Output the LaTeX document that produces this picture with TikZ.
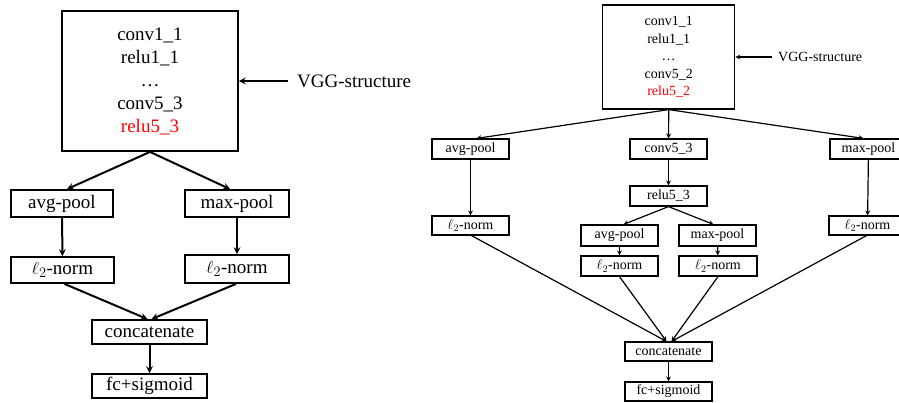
\documentclass[tikz,border=0pt]{standalone}
\usepackage{fontspec}
\setmainfont{Liberation Serif}
\tikzset{>=stealth}
\tikzset{
  bigtxt/.style={font=\fontsize{19}{23}\selectfont},
  smalltxt/.style={font=\fontsize{14}{17.5}\selectfont},
  boxL/.style={draw, line width=1.8pt, inner sep=0pt, bigtxt},
  boxR/.style={draw, line width=1.2pt, inner sep=0pt, smalltxt, minimum width=77pt, minimum height=20pt},
  arrL/.style={->, line width=2pt},
  arrR/.style={->, line width=1.2pt}
}

\begin{document}
\begin{tikzpicture}[x=1pt, y=-1pt]
\useasboundingbox (0,0) rectangle (899,402);
\node[boxL, minimum width=176pt, minimum height=140pt, align=center] (vggL) at (150,81) {conv1\_1\\relu1\_1\\\dots\\conv5\_3\\\textcolor{red}{relu5\_3}};
\node[bigtxt, anchor=west, inner xsep=9pt] (lblL) at (288,81) {VGG-structure};
\node[boxL, minimum width=102pt, minimum height=27pt] (avgL) at (62,203.5) {avg-pool};
\node[boxL, minimum width=104pt, minimum height=27pt] (maxL) at (237,203.5) {max-pool};
\node[boxL, minimum width=103pt, minimum height=26pt] (normL1) at (62.5,270) {$\ell_2$-norm};
\node[boxL, minimum width=104pt, minimum height=28pt] (normL2) at (237,269) {$\ell_2$-norm};
\node[boxL, minimum width=115pt, minimum height=24pt] (catL) at (149.5,332) {concatenate};
\node[boxL, minimum width=115pt, minimum height=24pt] (fcL) at (149.5,386) {fc+sigmoid};
\draw[arrL] (lblL) -- (vggL);
\draw[arrL] (vggL.south) -- ([xshift=5pt]avgL.north);
\draw[arrL] (vggL.south) -- ([xshift=-7pt]maxL.north);
\draw[arrL] (avgL) -- (normL1);
\draw[arrL] (maxL) -- (normL2);
\draw[arrL] ([xshift=2pt]normL1.south) -- ([xshift=-2pt]catL.north);
\draw[arrL] ([xshift=-1pt]normL2.south) -- ([xshift=2pt]catL.north);
\draw[arrL] (catL) -- (fcL);

\node[boxR, minimum width=132pt, minimum height=104pt, align=center] (vggR) at (668.7,57) {conv1\_1\\relu1\_1\\\dots\\conv5\_2\\\textcolor{red}{relu5\_2}};
\node[smalltxt, anchor=west, inner xsep=6pt] (lblR) at (772,57) {VGG-structure};
\node[boxR] (avgR) at (470.5,149) {avg-pool};
\node[boxR] (convR) at (668.5,149) {conv5\_3};
\node[boxR] (maxR) at (868.5,149) {max-pool};
\node[boxR] (reluR) at (668.5,196) {relu5\_3};
\node[boxR, minimum height=21pt] (avgRi) at (619.5,235.5) {avg-pool};
\node[boxR, minimum height=21pt] (maxRi) at (717.5,235.5) {max-pool};
\node[boxR] (normRi1) at (619.5,266) {$\ell_2$-norm};
\node[boxR, minimum width=78pt] (normRi2) at (718,266) {$\ell_2$-norm};
\node[boxR, minimum height=19pt] (normR1) at (470.5,225.5) {$\ell_2$-norm};
\node[boxR, minimum height=19pt] (normR2) at (867.5,225.5) {$\ell_2$-norm};
\node[boxR, minimum width=87pt, minimum height=19pt] (catR) at (668.5,351.5) {concatenate};
\node[boxR, minimum width=87pt, minimum height=19pt] (fcR) at (668.5,391.5) {fc+sigmoid};
\draw[arrR] (lblR) -- (vggR);
\draw[arrR] (vggR.south) -- ([xshift=6pt]avgR.north);
\draw[arrR] (vggR.south) -- (convR);
\draw[arrR] (vggR.south) -- ([xshift=-5pt]maxR.north);
\draw[arrR] (convR) -- (reluR);
\draw[arrR] (reluR.south) -- ([xshift=4pt]avgRi.north);
\draw[arrR] (reluR.south) -- ([xshift=-4pt]maxRi.north);
\draw[arrR] (avgRi) -- (normRi1);
\draw[arrR] (maxRi) -- (normRi2);
\draw[arrR] (avgR) -- (normR1);
\draw[arrR] (maxR) -- (normR2);
\draw[arrR] ([xshift=1pt]normR1.south) -- ([xshift=-2pt]catR.north);
\draw[arrR] (normRi1.south) -- ([xshift=-2pt]catR.north);
\draw[arrR] (normRi2.south) -- ([xshift=3pt]catR.north);
\draw[arrR] ([xshift=-1pt]normR2.south) -- ([xshift=3pt]catR.north);
\draw[arrR] (catR) -- (fcR);
\end{tikzpicture}
\end{document}
